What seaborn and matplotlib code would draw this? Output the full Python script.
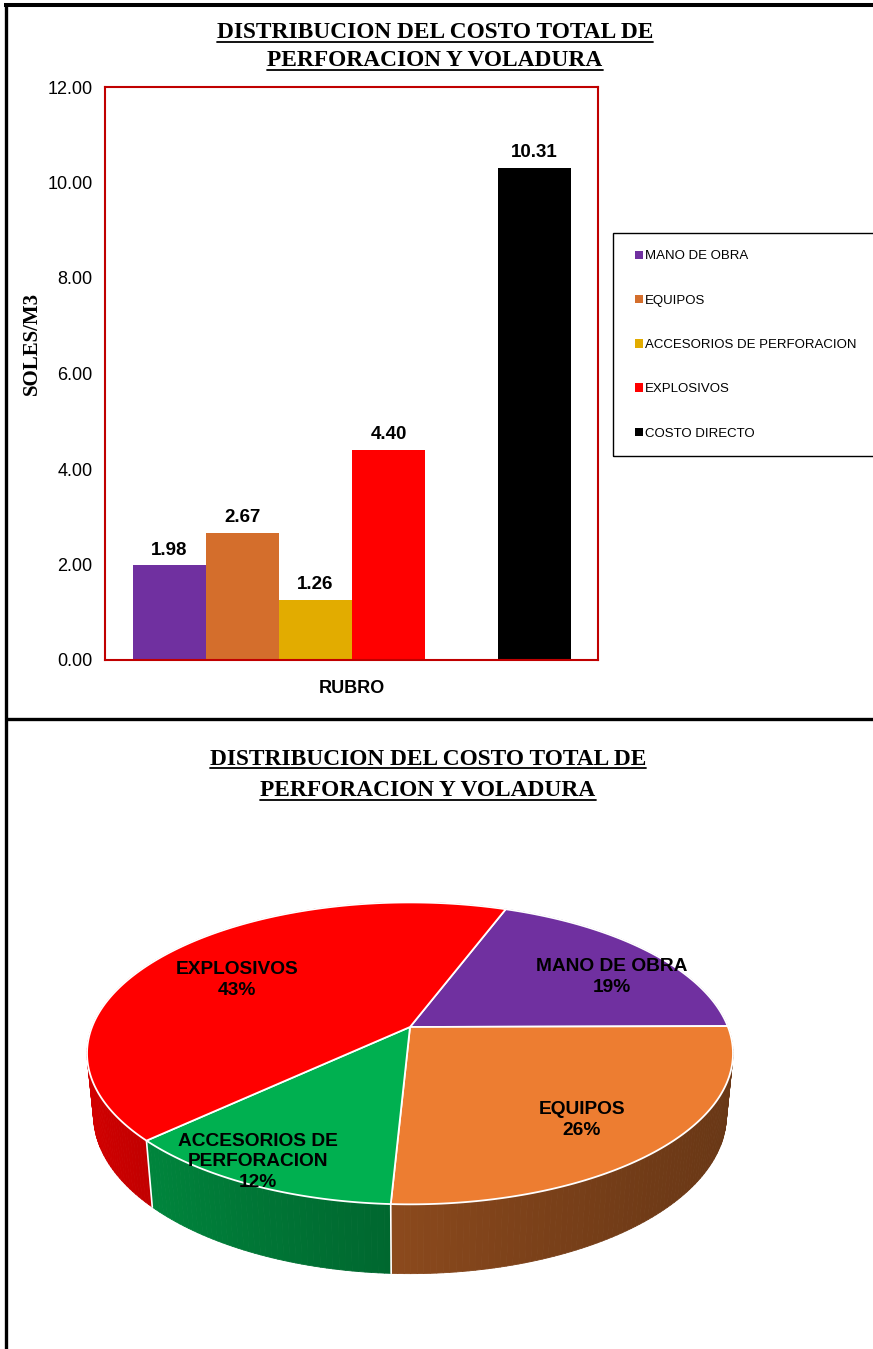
import numpy as np
import pandas as pd
import matplotlib
matplotlib.use("Agg")
import matplotlib.pyplot as plt
import seaborn as sns
from matplotlib.patches import Patch, Rectangle, Polygon
from matplotlib.collections import PolyCollection
from matplotlib.lines import Line2D
import matplotlib.colors as mcolors

# ---------------- data ----------------
categories = ["MANO DE OBRA", "EQUIPOS", "ACCESORIOS DE PERFORACION", "EXPLOSIVOS", "COSTO DIRECTO"]
values = [1.98, 2.67, 1.26, 4.40, 10.31]
bar_colors = ["#7030A0", "#D46E2C", "#E2AC00", "#FF0000", "#000000"]

pie_labels = ["MANO DE OBRA", "EQUIPOS", "ACCESORIOS DE\nPERFORACION", "EXPLOSIVOS"]
pie_values = [1.98, 2.67, 1.26, 4.40]
pie_colors = ["#7030A0", "#ED7D31", "#00B050", "#FF0000"]

title_lines = ["DISTRIBUCION DEL COSTO TOTAL DE", "PERFORACION Y VOLADURA"]
y_ticks = [0, 2, 4, 6, 8, 10, 12]

# ---------------- setup ----------------
W, H = 873, 1349
sns.set_style("white")
plt.rcParams["font.family"] = ["Liberation Sans", "DejaVu Sans"]
plt.rcParams["text.color"] = "black"
plt.rcParams["axes.labelcolor"] = "black"
plt.rcParams["xtick.color"] = "black"
plt.rcParams["ytick.color"] = "black"
fig = plt.figure(figsize=(W / 100, H / 100), dpi=100)
fig.patch.set_facecolor("white")


def fx(x):
    return x / W


def fy(y):
    return 1 - y / H


# background axes in pixel coordinates (frame + pie)
axp = fig.add_axes([0, 0, 1, 1])
axp.set_xlim(0, W)
axp.set_ylim(H, 0)
axp.axis("off")

# outer frame lines
axp.plot([6, 6], [4, H], color="black", lw=2.4, solid_capstyle="butt")
axp.plot([4, W], [5, 5], color="black", lw=2.9, solid_capstyle="butt")
axp.plot([6, W], [719, 719], color="black", lw=2.4, solid_capstyle="butt")

# ---------------- bar chart ----------------
ax = fig.add_axes([fx(105), fy(660), fx(598) - fx(105), (660 - 87) / H])
df = pd.DataFrame({"RUBRO": categories, "valor": values})
order = categories[:4] + [" "] + categories[4:]
sns.barplot(data=df, x="RUBRO", y="valor", hue="RUBRO", order=order,
            hue_order=categories, palette=dict(zip(categories, bar_colors)),
            width=1.0, dodge=False, legend=False, saturation=1, ax=ax,
            linewidth=0)
ax.set_ylim(0, 12)
ax.set_xlim(-0.884, 5.87)
ax.set_yticks(y_ticks)
ax.set_yticklabels([f"{t:.2f}" for t in y_ticks], fontsize=13)
ax.set_xticks([])
ax.tick_params(axis="y", length=0, pad=9)
for sp in ax.spines.values():
    sp.set_visible(True)
    sp.set_color("#C00000")
    sp.set_linewidth(1.5)
ax.set_ylabel("SOLES/M3", fontfamily="Liberation Serif", fontweight="bold", fontsize=15)
ax.yaxis.set_label_coords(-0.127, 0.553)
ax.set_xlabel("RUBRO", fontweight="bold", fontsize=13)
ax.xaxis.set_label_coords(0.5, -0.035)
ax.xaxis.label.set_va("top")
for c in ax.containers:
    labs = [("" if np.isnan(b.get_height()) else f"{b.get_height():.2f}") for b in c]
    ax.bar_label(c, labels=labs, padding=5, fontweight="bold", fontsize=13.5)

# legend
handles = [Patch(facecolor=col, edgecolor="none") for col in bar_colors]
fig.legend(handles, categories, loc="center left",
           bbox_to_anchor=(fx(635), fy(345)), frameon=False, fontsize=9.5,
           handlelength=0.6, handleheight=0.6, handletextpad=0.15,
           labelspacing=2.45, borderpad=0, borderaxespad=0)
fig.patches.append(Rectangle((fx(613), fy(456)), fx(900) - fx(613), (456 - 233) / H,
                             transform=fig.transFigure, fill=False,
                             edgecolor="black", lw=1.0, zorder=5))

# ---------------- titles (underlined) ----------------
title_texts = []
for (cxp, b1, b2) in [(435, 38, 66), (428, 765, 796)]:
    for line, base in zip(title_lines, [b1, b2]):
        t = fig.text(fx(cxp), fy(base), line, ha="center", va="baseline",
                     fontfamily="Liberation Serif", fontweight="bold", fontsize=16.8)
        title_texts.append((t, base))

# ---------------- 3D pie ----------------
elev = np.deg2rad(27.4)
Dcam = 5.08
scale = 318.0
pcx, pcy = 410.0, 1027.0
thick = 0.22
start_deg = 20.5


def proj(X, Y, Z):
    depth = Y * np.cos(elev) - Z * np.sin(elev) + Dcam
    u = X * Dcam / depth
    v = (Y * np.sin(elev) + Z * np.cos(elev)) * Dcam / depth
    return pcx + scale * u, pcy - scale * v


total = float(np.sum(pie_values))
fracs = np.array(pie_values) / total
bounds = start_deg + 360 * np.concatenate([[0], np.cumsum(fracs)])

# side walls
quads, qcols, qkeys = [], [], []
for i in range(len(pie_values)):
    a0, a1 = bounds[i], bounds[i + 1]
    n = max(int(np.ceil(a1 - a0)), 2)
    th = np.deg2rad(np.linspace(a0, a1, n + 1))
    base_rgb = np.array(mcolors.to_rgb(pie_colors[i]))
    for j in range(n):
        t0, t1 = th[j], th[j + 1]
        X0, Y0, X1, Y1 = np.sin(t0), np.cos(t0), np.sin(t1), np.cos(t1)
        p = [proj(X0, Y0, 0), proj(X1, Y1, 0), proj(X1, Y1, -thick), proj(X0, Y0, -thick)]
        xm = (X0 + X1) / 2
        f = 0.58 - 0.2 * xm + 0.06 * xm ** 2
        col = np.clip(base_rgb * f, 0, 1)
        quads.append(p)
        qcols.append(col)
        qkeys.append((Y0 + Y1) / 2)
idx = np.argsort(qkeys)[::-1]
pc = PolyCollection([quads[k] for k in idx], facecolors=[qcols[k] for k in idx],
                    edgecolors=[qcols[k] for k in idx], linewidths=0.6, zorder=2)
axp.add_collection(pc)

# white separators on the front wall
for a in bounds[:-1]:
    t = np.deg2rad(a)
    if np.cos(t) < 0:
        x0, y0 = proj(np.sin(t), np.cos(t), 0)
        x1, y1 = proj(np.sin(t), np.cos(t), -thick)
        axp.plot([x0, x1], [y0, y1], color="white", lw=1.2, zorder=3)

# top faces
for i in range(len(pie_values)):
    a0, a1 = bounds[i], bounds[i + 1]
    th = np.deg2rad(np.linspace(a0, a1, 200))
    pts = [proj(0, 0, 0)] + [proj(np.sin(t), np.cos(t), 0) for t in th]
    axp.add_patch(Polygon(pts, closed=True, facecolor=pie_colors[i],
                          edgecolor="white", lw=1.3, joinstyle="round", zorder=4))

# labels
label_pos = [(612, 977), (582, 1120), (258, 1162), (237, 980)]
for lab, v, (lx, ly) in zip(pie_labels, pie_values, label_pos):
    axp.text(lx, ly, f"{lab}\n{round(v / total * 100):.0f}%", ha="center", va="center",
             fontweight="bold", fontsize=13.8, linespacing=1.3, zorder=6)

# underline titles
fig.canvas.draw()
r = fig.canvas.get_renderer()
for t, base in title_texts:
    bb = t.get_window_extent(renderer=r)
    yy = fy(base + 3.5)
    fig.lines.append(Line2D([bb.x0 / W, bb.x1 / W], [yy, yy], transform=fig.transFigure,
                            color="black", lw=1.3))

fig.savefig("out.png", dpi=100, facecolor="white")
